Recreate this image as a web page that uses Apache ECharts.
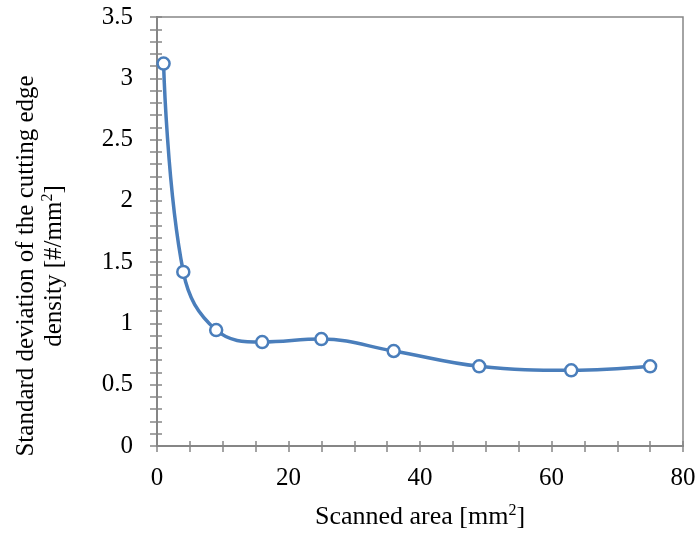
<!DOCTYPE html>
<html>
<head>
<meta charset="utf-8">
<script src="https://cdn.jsdelivr.net/npm/echarts@6/dist/echarts.min.js"></script>
<style>
  html, body { margin: 0; padding: 0; background: #fff; }
  #chart { width: 699px; height: 533px; }
</style>
</head>
<body>
<div id="chart"></div>
<script>
// Scanned area (mm²) and standard deviation of cutting edge density (#/mm²)
const scannedArea = [1, 4, 9, 16, 25, 36, 49, 63, 75];
const stdDeviation = [3.12, 1.42, 0.946, 0.848, 0.872, 0.775, 0.65, 0.617, 0.65];

const xTicks = { min: 0, max: 80, interval: 20 };
const yTicks = { min: 0, max: 3.5, interval: 0.5 };

const FONT = '"Liberation Serif", "Times New Roman", serif';
const AXIS_GRAY = '#868686';
const LINE_BLUE = '#4a7ebb';

const chart = echarts.init(document.getElementById('chart'), null, { renderer: 'canvas' });

const points = scannedArea.map((x, i) => [x, stdDeviation[i]]);

// Ticks cross the axis line: one axis draws them outside, a twin draws them inside.
function makeX(inside, showLabel) {
  const len = inside ? 5 : 6;
  return {
    type: 'value', position: 'bottom',
    min: xTicks.min, max: xTicks.max, interval: xTicks.interval,
    axisLine: { show: true, onZero: false, lineStyle: { color: AXIS_GRAY, width: 2 } },
    axisTick: { show: true, inside: inside, length: len, lineStyle: { color: AXIS_GRAY, width: 1.5 } },
    minorTick: { show: true, splitNumber: 4, length: len, lineStyle: { color: AXIS_GRAY, width: 1.5 } },
    axisLabel: { show: showLabel, margin: 20, color: '#000', fontFamily: FONT, fontSize: 25 },
    splitLine: { show: false }
  };
}
function makeY(inside, showLabel) {
  const len = inside ? 5 : 7;
  return {
    type: 'value', position: 'left',
    min: yTicks.min, max: yTicks.max, interval: yTicks.interval,
    axisLine: { show: true, onZero: false, lineStyle: { color: AXIS_GRAY, width: 2 } },
    axisTick: { show: true, inside: inside, length: len, lineStyle: { color: AXIS_GRAY, width: 1.5 } },
    minorTick: { show: true, splitNumber: 5, length: len, lineStyle: { color: AXIS_GRAY, width: 1.5 } },
    axisLabel: { show: showLabel, margin: 24, color: '#000', fontFamily: FONT, fontSize: 25,
      formatter: v => String(v) },
    splitLine: { show: false }
  };
}

const xInside = makeX(true, false);
xInside.minorTick.inside = true;
const yInside = makeY(true, false);
yInside.minorTick.inside = true;

function titleRich(size) {
  return {
    n: { fontFamily: FONT, fontSize: size, fill: '#000', lineHeight: 28 },
    s: { fontFamily: FONT, fontSize: 16, fill: '#000', verticalAlign: 'top', lineHeight: 28 }
  };
}

chart.setOption({
  animation: false,
  backgroundColor: '#fff',
  grid: {
    left: 157, right: 16, top: 17, bottom: 87,
    show: true, borderColor: AXIS_GRAY, borderWidth: 1.5, backgroundColor: 'transparent'
  },
  xAxis: [makeX(false, true), xInside],
  yAxis: [makeY(false, true), yInside],
  series: [{
    type: 'line',
    xAxisIndex: 0, yAxisIndex: 0,
    data: points,
    smooth: 0.4,
    symbol: 'circle',
    symbolSize: 12,
    lineStyle: { color: LINE_BLUE, width: 3.5 },
    itemStyle: { color: '#fff', borderColor: LINE_BLUE, borderWidth: 2.5 },
    z: 5
  }],
  graphic: [
    {
      type: 'text',
      x: 420, y: 517,
      style: {
        text: '{n|Scanned area [mm}{s|2}{n|]}',
        textAlign: 'center', textVerticalAlign: 'middle',
        rich: titleRich(26)
      }
    },
    {
      type: 'text',
      x: 40, y: 266,
      rotation: Math.PI / 2,
      style: {
        text: '{n|Standard deviation of the cutting edge}\n{n|density [#/mm}{s|2}{n|]}',
        textAlign: 'center', textVerticalAlign: 'middle',
        rich: titleRich(25)
      }
    }
  ]
});
</script>
</body>
</html>
